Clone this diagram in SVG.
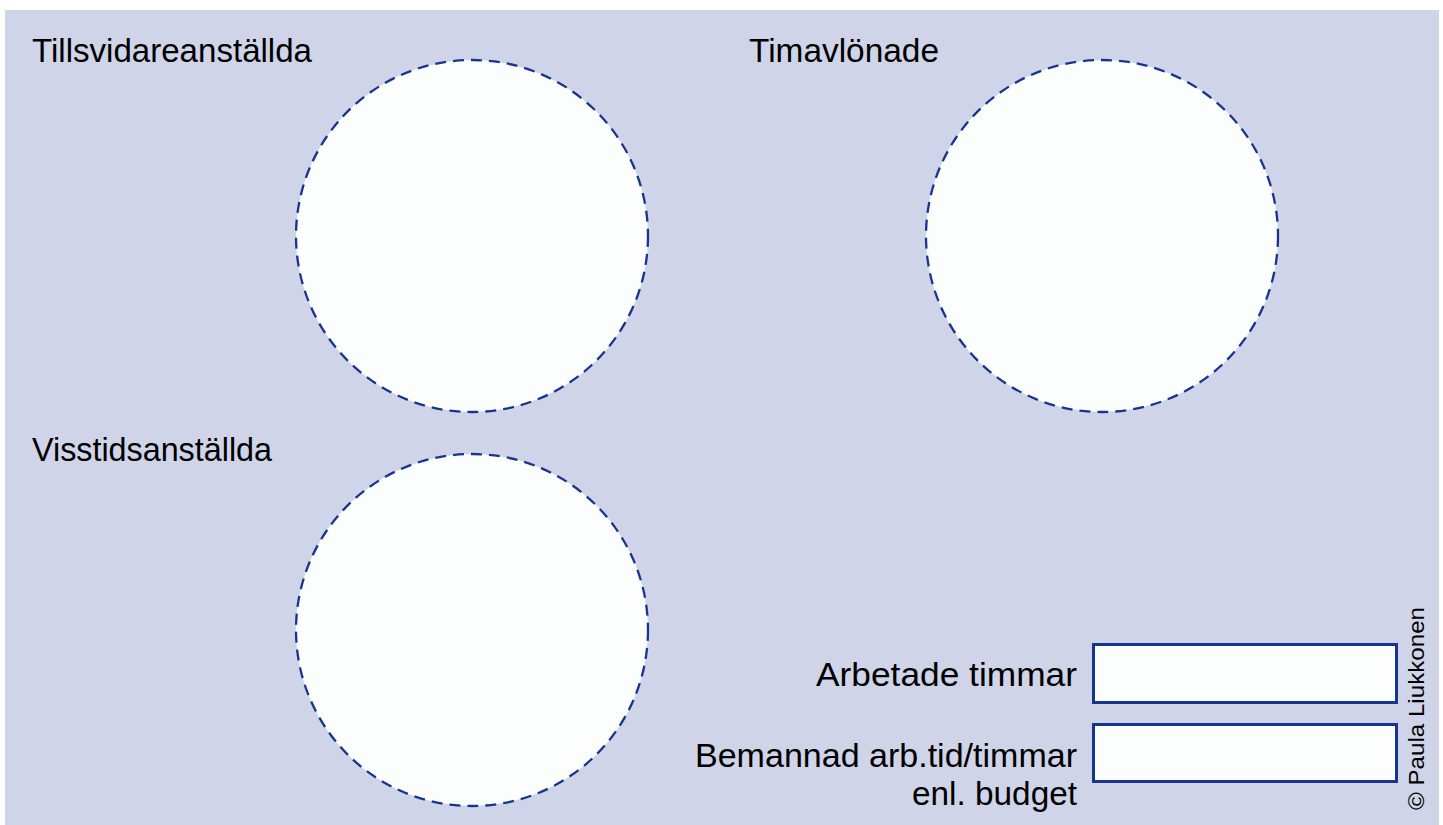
<svg xmlns="http://www.w3.org/2000/svg" width="1443" height="825" viewBox="0 0 1443 825">
<style>
.lbl{font-family:"Liberation Sans",Arial,sans-serif;font-size:34px;fill:#000}
.circ{fill:#fcfefe;stroke:#17358f;stroke-width:2.3;stroke-dasharray:11 7}
.box{fill:#fcfefe;stroke:#17358f;stroke-width:3}
</style>
<rect x="0" y="0" width="1443" height="825" fill="#ffffff"/>
<rect x="5" y="10" width="1434" height="815" fill="#cfd4e8"/>
<g id="tillsvidare">
<circle class="circ" cx="472" cy="236" r="176"/>
<text class="lbl" x="32" y="62" textLength="280" lengthAdjust="spacingAndGlyphs">Tillsvidareanställda</text>
</g>
<g id="timavlonade">
<circle class="circ" cx="1102" cy="236" r="176"/>
<text class="lbl" x="749" y="62" textLength="190" lengthAdjust="spacingAndGlyphs">Timavlönade</text>
</g>
<g id="visstid">
<circle class="circ" cx="472" cy="630" r="176"/>
<text class="lbl" x="32" y="461" textLength="240" lengthAdjust="spacingAndGlyphs">Visstidsanställda</text>
</g>
<g id="arbetade">
<rect class="box" x="1093.5" y="644.5" width="303" height="58"/>
<text class="lbl" x="816" y="686" textLength="261" lengthAdjust="spacingAndGlyphs">Arbetade timmar</text>
</g>
<g id="bemannad">
<rect class="box" x="1093.5" y="724.5" width="303" height="57"/>
<text class="lbl" x="695" y="767" textLength="382" lengthAdjust="spacingAndGlyphs">Bemannad arb.tid/timmar</text>
<text class="lbl" x="912" y="805" textLength="165" lengthAdjust="spacingAndGlyphs">enl. budget</text>
</g>
<g id="connectors"></g>
<text x="0" y="0" transform="translate(1424,810) rotate(-90)" style="font-family:'Liberation Sans',Arial,sans-serif;font-size:22px;fill:#000" textLength="203" lengthAdjust="spacingAndGlyphs">© Paula Liukkonen</text>
</svg>
